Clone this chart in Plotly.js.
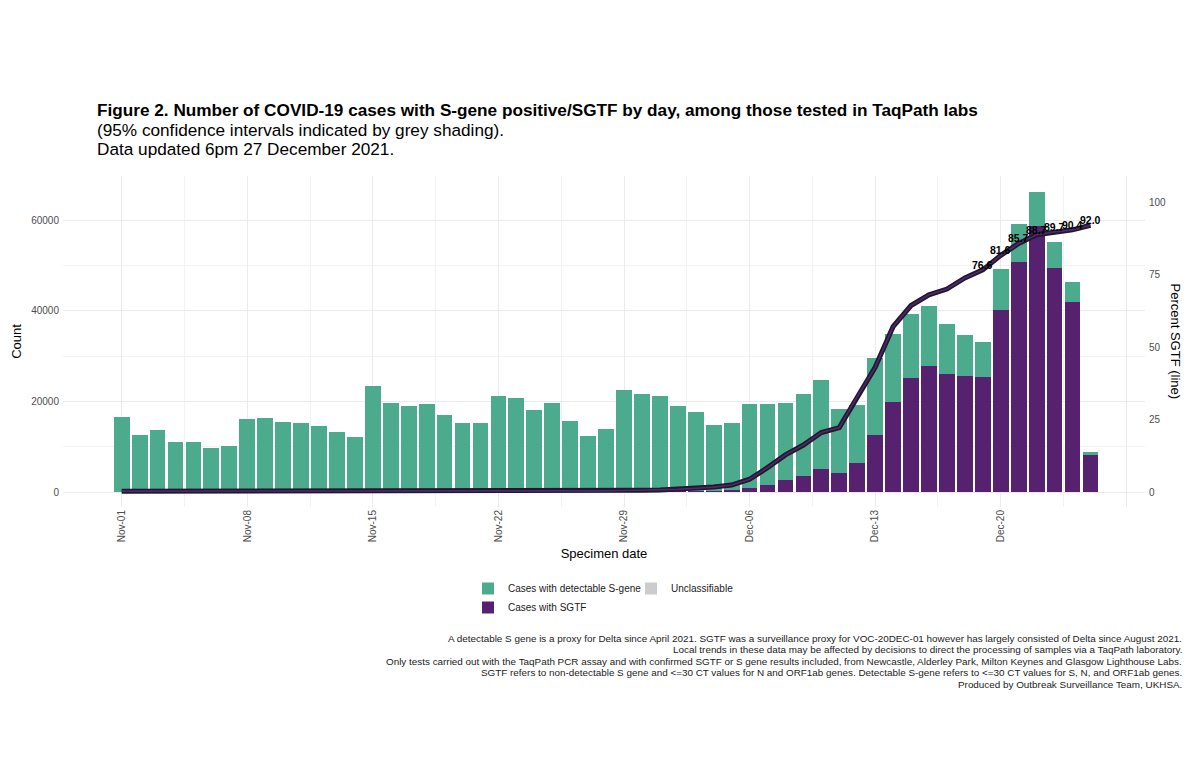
<!DOCTYPE html>
<html>
<head>
<meta charset="utf-8">
<script src="https://cdn.plot.ly/plotly-3.0.1.min.js"></script>
<style>
  html, body { margin: 0; padding: 0; background: #fff; }
  #chart { width: 1200px; height: 778px; }
</style>
</head>
<body>
<div id="chart"></div>
<script>
// specimen dates, one bar per day
let dates = [
  '2021-11-01','2021-11-02','2021-11-03','2021-11-04','2021-11-05','2021-11-06','2021-11-07',
  '2021-11-08','2021-11-09','2021-11-10','2021-11-11','2021-11-12','2021-11-13','2021-11-14',
  '2021-11-15','2021-11-16','2021-11-17','2021-11-18','2021-11-19','2021-11-20','2021-11-21',
  '2021-11-22','2021-11-23','2021-11-24','2021-11-25','2021-11-26','2021-11-27','2021-11-28',
  '2021-11-29','2021-11-30','2021-12-01','2021-12-02','2021-12-03','2021-12-04','2021-12-05',
  '2021-12-06','2021-12-07','2021-12-08','2021-12-09','2021-12-10','2021-12-11','2021-12-12',
  '2021-12-13','2021-12-14','2021-12-15','2021-12-16','2021-12-17','2021-12-18','2021-12-19',
  '2021-12-20','2021-12-21','2021-12-22','2021-12-23','2021-12-24','2021-12-25'
];

// cases with SGTF (purple, bottom of stack)
let sgtf = [
  50, 40, 45, 30, 35, 25, 30,
  50, 45, 40, 45, 40, 35, 30,
  70, 60, 55, 60, 55, 50, 55,
  70, 75, 70, 80, 60, 50, 60,
  110, 130, 150, 170, 230, 250, 360,
  860, 1640, 2600, 3600, 5100, 4100, 6400,
  12600, 19900, 25200, 27900, 26000, 25600, 25400,
  40200, 50700, 58700, 49400, 41850, 8100
];

// cases with detectable S-gene (green, stacked on top)
let detectable = [
  16550, 12460, 13655, 11070, 11065, 9775, 10170,
  16050, 16255, 15360, 15255, 14560, 13265, 12170,
  23330, 19540, 18945, 19440, 16945, 15150, 15245,
  21130, 20625, 18130, 19620, 15540, 12250, 13740,
  22490, 21470, 21050, 18730, 17370, 14550, 14840,
  18640, 17860, 17000, 18100, 19700, 14200, 12900,
  16900, 15000, 14100, 13100, 11100, 9100, 7800,
  9100, 8500, 7500, 5700, 4450, 700
];

// unclassifiable (nothing visible in this period)
let unclassifiable = [
  0, 0, 0, 0, 0, 0, 0, 0, 0, 0, 0, 0, 0, 0, 0, 0, 0, 0, 0, 0, 0, 0, 0, 0, 0, 0, 0, 0,
  0, 0, 0, 0, 0, 0, 0, 0, 0, 0, 0, 0, 0, 0, 0, 0, 0, 0, 0, 0, 0, 0, 0, 0, 0, 0, 0
];

// percent SGTF (line, right axis)
let pctSgtf = [
  0.3, 0.3, 0.3, 0.2, 0.3, 0.2, 0.2,
  0.3, 0.2, 0.2, 0.2, 0.2, 0.2, 0.2,
  0.2, 0.2, 0.2, 0.2, 0.2, 0.2, 0.3,
  0.2, 0.3, 0.3, 0.3, 0.3, 0.4, 0.4,
  0.5, 0.6, 0.7, 0.9, 1.3, 1.7, 2.4,
  4.4, 8.4, 12.8, 16.2, 20.5, 22.2, 32.9,
  43.0, 57.0, 64.3, 68.0, 70.0, 73.8, 76.6,
  81.6, 85.7, 88.7, 89.7, 90.4, 92.0
];

// days that carry a value label on the line
let labelledDates = ['2021-12-19','2021-12-20','2021-12-21','2021-12-22','2021-12-23','2021-12-24','2021-12-25'];

let xTickVals = ['2021-11-01','2021-11-08','2021-11-15','2021-11-22','2021-11-29','2021-12-06','2021-12-13','2021-12-20','2021-12-27'];
let xTickText = ['Nov-01','Nov-08','Nov-15','Nov-22','Nov-29','Dec-06','Dec-13','Dec-20',''];

let titleLines = [
  '<b>Figure 2. Number of COVID-19 cases with S-gene positive/SGTF by day, among those tested in TaqPath labs</b>',
  '(95% confidence intervals indicated by grey shading).',
  'Data updated 6pm 27 December 2021.'
];

let footnotes = [
  'A detectable S gene is a proxy for Delta since April 2021. SGTF was a surveillance proxy for VOC-20DEC-01 however has largely consisted of Delta since August 2021.',
  'Local trends in these data may be affected by decisions to direct the processing of samples via a TaqPath laboratory.',
  'Only tests carried out with the TaqPath PCR assay and with confirmed SGTF or S gene results included, from Newcastle, Alderley Park, Milton Keynes and Glasgow Lighthouse Labs.',
  'SGTF refers to non-detectable S gene and <=30 CT values for N and ORF1ab genes. Detectable S-gene refers to <=30 CT values for S, N, and ORF1ab genes.',
  'Produced by Outbreak Surveillance Team, UKHSA.'
];

let FONT = 'Liberation Sans, Arial, Helvetica, sans-serif';
let GREEN = '#4caa8d';
let PURPLE = '#56216e';
let DAY = 86400000;

// plot area in pixels, used to place the free text
let PL = 63, PR = 1145, PT = 176, PB = 507;
let px2x = function (px) { return (px - PL) / (PR - PL); };
let px2y = function (py) { return (PB - py) / (PB - PT); };

let traceSgtf = {
  type: 'bar',
  name: 'Cases with SGTF',
  x: dates,
  y: sgtf,
  width: 0.88 * DAY,
  marker: { color: PURPLE },
  legend: 'legend',
  legendrank: 2
};
let traceDetect = {
  type: 'bar',
  name: 'Cases with detectable S-gene',
  x: dates,
  y: detectable,
  width: 0.88 * DAY,
  marker: { color: GREEN },
  legend: 'legend',
  legendrank: 1
};
let traceUnclass = {
  type: 'bar',
  name: 'Unclassifiable',
  x: dates,
  y: unclassifiable,
  width: 0.88 * DAY,
  marker: { color: '#cccccc' },
  legend: 'legend2'
};
let lineOuter = {
  type: 'scatter',
  mode: 'lines',
  x: dates,
  y: pctSgtf,
  yaxis: 'y2',
  line: { color: '#21172f', width: 5 },
  showlegend: false,
  hoverinfo: 'skip'
};
let lineInner = {
  type: 'scatter',
  mode: 'lines',
  x: dates,
  y: pctSgtf,
  yaxis: 'y2',
  line: { color: '#4e2a6c', width: 1.6 },
  showlegend: false
};

let data = [traceSgtf, traceDetect, traceUnclass, lineOuter, lineInner];

let annotations = [];
for (let i = 0; i < dates.length; i++) {
  if (labelledDates.indexOf(dates[i]) >= 0) {
    annotations.push({
      x: dates[i], y: pctSgtf[i], xref: 'x', yref: 'y2',
      text: '<b>' + pctSgtf[i].toFixed(1) + '</b>',
      showarrow: false, yshift: 5,
      font: { family: FONT, size: 10.5, color: '#000' }
    });
  }
}

// title, three lines set tighter than plotly's own line spacing
let titleCentres = [110, 129.5, 149];
for (let i = 0; i < titleLines.length; i++) {
  annotations.push({
    xref: 'paper', yref: 'paper', x: px2x(95), y: px2y(titleCentres[i]),
    xanchor: 'left', yanchor: 'middle', showarrow: false,
    text: titleLines[i],
    font: { family: FONT, size: 17.2, color: '#000' }
  });
}

annotations.push({
  xref: 'paper', yref: 'paper', x: px2x(1175), y: 0.5,
  xanchor: 'center', yanchor: 'middle',
  text: 'Percent SGTF (line)', textangle: 90, showarrow: false,
  font: { family: FONT, size: 13, color: '#000' }
});

let footCentres = [638.3, 649.8, 661.3, 672.8, 684.3];
for (let i = 0; i < footnotes.length; i++) {
  annotations.push({
    xref: 'paper', yref: 'paper', x: px2x(1184), y: px2y(footCentres[i]),
    xanchor: 'right', yanchor: 'middle', align: 'right',
    text: footnotes[i], showarrow: false,
    font: { family: FONT, size: 9.9, color: '#1a1a1a' }
  });
}

let layout = {
  width: 1200,
  height: 778,
  margin: { l: PL, r: 1200 - PR, t: PT, b: 778 - PB },
  paper_bgcolor: '#fff',
  plot_bgcolor: '#fff',
  font: { family: FONT, color: '#000' },
  barmode: 'stack',
  xaxis: {
    type: 'date',
    range: ['2021-10-28 17:30', '2021-12-28 01:00'],
    tickmode: 'array',
    tickvals: xTickVals,
    ticktext: xTickText,
    tickangle: -90,
    tickfont: { family: FONT, size: 10, color: '#4d4d4d' },
    showgrid: true,
    gridcolor: '#ebebeb',
    gridwidth: 1,
    minor: { tick0: '2021-11-04 12:00', dtick: 7 * DAY, showgrid: true, gridcolor: '#f2f2f2', gridwidth: 1 },
    zeroline: false,
    showline: false,
    ticks: '',
    title: { text: 'Specimen date', font: { family: FONT, size: 13, color: '#000' }, standoff: 7 }
  },
  yaxis: {
    range: [-3309, 69711],
    tickmode: 'array',
    tickvals: [0, 20000, 40000, 60000],
    ticktext: ['0', '20000', '40000', '60000'],
    tickfont: { family: FONT, size: 10, color: '#4d4d4d' },
    ticklabelstandoff: 3,
    showgrid: true,
    gridcolor: '#ebebeb',
    gridwidth: 1,
    minor: { tickmode: 'array', tickvals: [10000, 30000, 50000], showgrid: true, gridcolor: '#f2f2f2', gridwidth: 1 },
    zeroline: false,
    showline: false,
    ticks: '',
    title: { text: 'Count', font: { family: FONT, size: 13, color: '#000' }, standoff: 6 }
  },
  yaxis2: {
    overlaying: 'y',
    side: 'right',
    range: [-5.17, 108.97],
    tickmode: 'array',
    tickvals: [0, 25, 50, 75, 100],
    tickfont: { family: FONT, size: 10, color: '#4d4d4d' },
    ticklabelstandoff: 3,
    showgrid: false,
    zeroline: false,
    showline: false,
    ticks: ''
  },
  legend: {
    x: px2x(468), y: px2y(574),
    xanchor: 'left', yanchor: 'top',
    orientation: 'v',
    traceorder: 'normal',
    font: { family: FONT, size: 10, color: '#1a1a1a' },
    tracegroupgap: 0,
    bgcolor: 'rgba(0,0,0,0)'
  },
  legend2: {
    x: px2x(631), y: px2y(574),
    xanchor: 'left', yanchor: 'top',
    orientation: 'v',
    font: { family: FONT, size: 10, color: '#1a1a1a' },
    bgcolor: 'rgba(0,0,0,0)'
  },
  annotations: annotations,
  showlegend: true
};

Plotly.newPlot(document.getElementById('chart'), data, layout, { displayModeBar: false, staticPlot: true });
</script>
</body>
</html>
